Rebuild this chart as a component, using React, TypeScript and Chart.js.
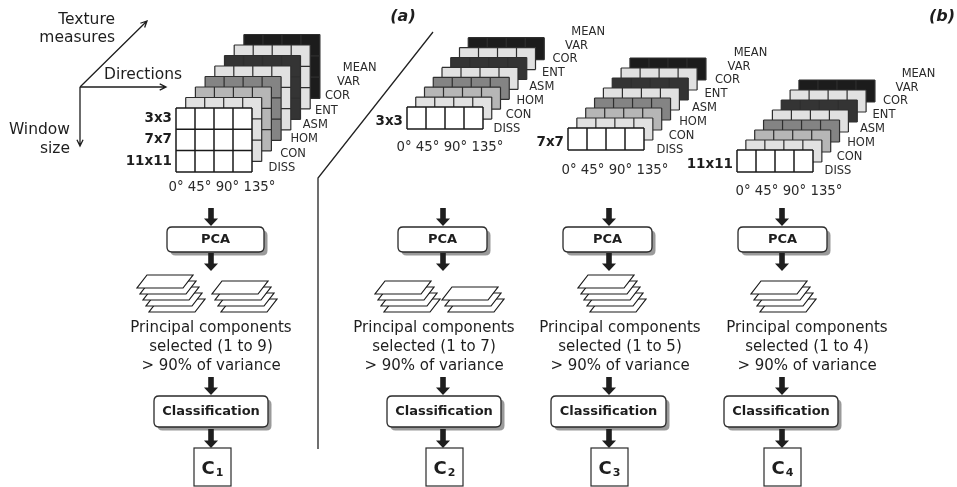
import React, { useEffect, useRef } from 'react';
import { Chart, registerables } from 'chart.js';

Chart.register(...registerables);

// ---------- data ----------
const measures = ['DISS', 'CON', 'HOM', 'ASM', 'ENT', 'COR', 'VAR', 'MEAN'];
const directions = ['0°', '45°', '90°', '135°'];
const windowSizes = ['3x3', '7x7', '11x11'];
const selectedRanges = ['1 to 9', '1 to 7', '1 to 5', '1 to 4'];
const componentStacks = [[5, 4], [4, 3], [5], [4]];
const classifierIndex = ['1', '2', '3', '4'];
const panelLabels = ['a', 'b'];
const axisTexture = ['Texture', 'measures'];
const axisDirections = ['Directions'];
const axisWindow = ['Window', 'size'];
const stepNames = ['PCA', 'Classification'];
const textLines = ['Principal components', 'selected (#)', '> 90% of variance'];
const dividerPath = [
  { x: 433, y: 32 },
  { x: 318, y: 178 },
  { x: 318, y: 449 },
];

// ---------- layout & style ----------
const W = 957;
const H = 487;
const FONT = "'DejaVu Sans', Verdana, sans-serif";
const INK = '#1e1e1e';
const layerShades = ['#ffffff', '#e1e1e1', '#b6b6b6', '#848484', '#e1e1e1', '#343434', '#e1e1e1', '#1c1c1c'];

const stackLayouts = [
  { x: 176, y: 108, rows: [0, 1, 2], cw: 19, ch: 21.3, dx: 9.7, dy: -10.5, labelX: 282, labelY: 168, stepX: 11.1, stepY: -14.3, dirX: 222, dirY: 188, rowDy: 0 },
  { x: 407, y: 107, rows: [0], cw: 19, ch: 22, dx: 8.75, dy: -9.9, labelX: 507, labelY: 129, stepX: 11.6, stepY: -13.9, dirX: 450, dirY: 148, rowDy: 3 },
  { x: 568, y: 128, rows: [1], cw: 19, ch: 22, dx: 8.85, dy: -10, labelX: 670, labelY: 150, stepX: 11.5, stepY: -13.9, dirX: 615, dirY: 171, rowDy: 3 },
  { x: 737, y: 150, rows: [2], cw: 19, ch: 22, dx: 8.85, dy: -10, labelX: 838, labelY: 171, stepX: 11.5, stepY: -13.9, dirX: 789, dirY: 192, rowDy: 3 },
];

const flowColumns = [
  { arrowX: 211, pca: [167, 264], cls: [154, 268], cbox: [194, 231], textX: 211, sheetX: [149, 221] },
  { arrowX: 443, pca: [398, 487], cls: [387, 501], cbox: [426, 463], textX: 434, sheetX: [384, 448] },
  { arrowX: 609, pca: [563, 652], cls: [551, 666], cbox: [591, 628], textX: 620, sheetX: [590] },
  { arrowX: 782, pca: [738, 827], cls: [724, 838], cbox: [764, 801], textX: 807, sheetX: [760] },
];

const flowY = {
  arrow1: [208, 226],
  pca: [227, 252],
  arrow2: [253, 271],
  sheetBottom: 312,
  text: [328, 347, 366],
  arrow3: [377, 395],
  cls: [396, 427],
  arrow4: [429, 448],
  cbox: [448, 486],
};

const diagramPlugin = {
  id: 'diagram',
  afterDatasetsDraw(chart: any) {
    const ctx: CanvasRenderingContext2D = chart.ctx;
    const sx = chart.scales.x;
    const sy = chart.scales.y;
    const X = (v: number) => sx.getPixelForValue(v);
    const Y = (v: number) => sy.getPixelForValue(v);

    const text = (s: string, x: number, y: number, font: string, align: CanvasTextAlign = 'center', color = INK) => {
      ctx.save();
      ctx.font = font;
      ctx.fillStyle = color;
      ctx.textAlign = align;
      ctx.textBaseline = 'middle';
      ctx.fillText(s, X(x), Y(y));
      ctx.restore();
    };

    const openArrow = (x0: number, y0: number, x1: number, y1: number) => {
      const ax = X(x0), ay = Y(y0), bx = X(x1), by = Y(y1);
      const ang = Math.atan2(by - ay, bx - ax);
      const L = 7;
      ctx.save();
      ctx.strokeStyle = INK;
      ctx.lineWidth = 1.3;
      ctx.beginPath();
      ctx.moveTo(ax, ay);
      ctx.lineTo(bx, by);
      ctx.moveTo(bx - L * Math.cos(ang - 0.45), by - L * Math.sin(ang - 0.45));
      ctx.lineTo(bx, by);
      ctx.lineTo(bx - L * Math.cos(ang + 0.45), by - L * Math.sin(ang + 0.45));
      ctx.stroke();
      ctx.restore();
    };

    const blockArrow = (x: number, y0: number, y1: number) => {
      const cx = X(x), t = Y(y0), b = Y(y1);
      ctx.save();
      ctx.fillStyle = INK;
      ctx.fillRect(cx - 2.8, t, 5.6, b - t - 7);
      ctx.beginPath();
      ctx.moveTo(cx - 7, b - 7.5);
      ctx.lineTo(cx + 7, b - 7.5);
      ctx.lineTo(cx, b);
      ctx.closePath();
      ctx.fill();
      ctx.restore();
    };

    const roundRect = (x0: number, y0: number, x1: number, y1: number, r: number) => {
      ctx.beginPath();
      ctx.moveTo(x0 + r, y0);
      ctx.lineTo(x1 - r, y0);
      ctx.quadraticCurveTo(x1, y0, x1, y0 + r);
      ctx.lineTo(x1, y1 - r);
      ctx.quadraticCurveTo(x1, y1, x1 - r, y1);
      ctx.lineTo(x0 + r, y1);
      ctx.quadraticCurveTo(x0, y1, x0, y1 - r);
      ctx.lineTo(x0, y0 + r);
      ctx.quadraticCurveTo(x0, y0, x0 + r, y0);
      ctx.closePath();
    };

    const box = (xs: number[], ys: number[], label: string) => {
      const x0 = X(xs[0]), x1 = X(xs[1]), y0 = Y(ys[0]), y1 = Y(ys[1]);
      ctx.save();
      ctx.fillStyle = '#9a9a9a';
      roundRect(x0 + 3.5, y0 + 3.5, x1 + 3.5, y1 + 3.5, 5);
      ctx.fill();
      ctx.fillStyle = '#ffffff';
      ctx.strokeStyle = '#2a2a2a';
      ctx.lineWidth = 1.3;
      roundRect(x0, y0, x1, y1, 5);
      ctx.fill();
      ctx.stroke();
      ctx.restore();
      text(label, (xs[0] + xs[1]) / 2, (ys[0] + ys[1]) / 2 + 0.5, `bold 13px ${FONT}`);
    };

    // ---- axes (panel a) ----
    openArrow(80, 87, 147, 21);
    openArrow(80, 87, 166, 87);
    openArrow(80, 87, 80, 146);
    const axFont = `15.5px ${FONT}`;
    text(axisTexture[0], 115, 20, axFont, 'right');
    text(axisTexture[1], 115, 38, axFont, 'right');
    text(axisDirections[0], 104, 75, axFont, 'left');
    text(axisWindow[0], 70, 130, axFont, 'right');
    text(axisWindow[1], 70, 149, axFont, 'right');

    // ---- panel labels ----
    text(`(${panelLabels[0]})`, 403, 17, `italic bold 16px ${FONT}`);
    text(`(${panelLabels[1]})`, 942, 17, `italic bold 16px ${FONT}`);

    // ---- texture cubes ----
    stackLayouts.forEach((s) => {
      const nRows = s.rows.length;
      const nCols = directions.length;
      for (let li = measures.length - 1; li >= 0; li--) {
        const ox = X(s.x + li * s.dx);
        const oy = Y(s.y + li * s.dy);
        const w = nCols * s.cw;
        const h = nRows * s.ch;
        ctx.save();
        ctx.fillStyle = layerShades[li];
        ctx.fillRect(ox, oy, w, h);
        ctx.strokeStyle = li === 0 ? '#1a1a1a' : '#2e2e2e';
        ctx.lineWidth = li === 0 ? 1.5 : 1.2;
        ctx.beginPath();
        for (let c = 0; c <= nCols; c++) {
          ctx.moveTo(ox + c * s.cw, oy);
          ctx.lineTo(ox + c * s.cw, oy + h);
        }
        for (let r = 0; r <= nRows; r++) {
          ctx.moveTo(ox, oy + r * s.ch);
          ctx.lineTo(ox + w, oy + r * s.ch);
        }
        ctx.stroke();
        ctx.restore();
      }
      // measure labels
      measures.forEach((m, i) => {
        text(m, s.labelX + i * s.stepX, s.labelY + i * s.stepY, `11.5px ${FONT}`, 'center', '#2a2a2a');
      });
      // row labels
      s.rows.forEach((ri, k) => {
        text(windowSizes[ri], s.x - 4, s.y + (k + 0.5) * s.ch + s.rowDy, `bold 13.5px ${FONT}`, 'right');
      });
      // direction labels
      text(directions.join(' '), s.dirX, s.dirY, `13.3px ${FONT}`, 'center', '#2a2a2a');
    });

    // ---- flow columns ----
    flowColumns.forEach((col, ci) => {
      blockArrow(col.arrowX, flowY.arrow1[0], flowY.arrow1[1]);
      box(col.pca, flowY.pca, stepNames[0]);
      blockArrow(col.arrowX, flowY.arrow2[0], flowY.arrow2[1]);

      // sheets (principal components)
      componentStacks[ci].forEach((n, si) => {
        const bx = col.sheetX[si];
        for (let k = n - 1; k >= 0; k--) {
          const depth = n - 1 - k;
          const blx = bx - depth * 3;
          const bly = flowY.sheetBottom - depth * 6;
          ctx.save();
          ctx.beginPath();
          ctx.moveTo(X(blx), Y(bly));
          ctx.lineTo(X(blx + 46), Y(bly));
          ctx.lineTo(X(blx + 56), Y(bly - 13));
          ctx.lineTo(X(blx + 10), Y(bly - 13));
          ctx.closePath();
          ctx.fillStyle = '#ffffff';
          ctx.fill();
          ctx.strokeStyle = '#1a1a1a';
          ctx.lineWidth = 1.2;
          ctx.stroke();
          ctx.restore();
        }
      });

      textLines.forEach((t, li) => {
        text(t.replace('#', selectedRanges[ci]), col.textX, flowY.text[li], `15px ${FONT}`);
      });

      blockArrow(col.arrowX, flowY.arrow3[0], flowY.arrow3[1]);
      box(col.cls, flowY.cls, stepNames[1]);
      blockArrow(col.arrowX, flowY.arrow4[0], flowY.arrow4[1]);

      // classification result box
      const x0 = X(col.cbox[0]), x1 = X(col.cbox[1]), y0 = Y(flowY.cbox[0]), y1 = Y(flowY.cbox[1]);
      ctx.save();
      ctx.fillStyle = '#ffffff';
      ctx.fillRect(x0, y0, x1 - x0, y1 - y0);
      ctx.strokeStyle = '#2a2a2a';
      ctx.lineWidth = 1.2;
      ctx.strokeRect(x0, y0, x1 - x0, y1 - y0);
      ctx.font = `bold 18px ${FONT}`;
      const wC = ctx.measureText('C').width;
      ctx.font = `bold 11px ${FONT}`;
      const wS = ctx.measureText(classifierIndex[ci]).width;
      const cx = (x0 + x1) / 2;
      const cy = Y(flowY.cbox[0] + 21);
      const start = cx - (wC + wS + 1) / 2;
      ctx.fillStyle = INK;
      ctx.textBaseline = 'middle';
      ctx.textAlign = 'left';
      ctx.font = `bold 18px ${FONT}`;
      ctx.fillText('C', start, cy);
      ctx.font = `bold 11px ${FONT}`;
      ctx.fillText(classifierIndex[ci], start + wC + 1, cy + 4);
      ctx.restore();
    });
  },
};

export default function App() {
  const ref = useRef<HTMLCanvasElement | null>(null);

  useEffect(() => {
    document.body.style.margin = '0';
    document.body.style.background = '#ffffff';
    const canvas = ref.current;
    if (!canvas) return;
    const chart = new Chart(canvas, {
      type: 'scatter',
      data: {
        datasets: [
          {
            data: dividerPath,
            showLine: true,
            borderColor: '#222222',
            borderWidth: 1.3,
            pointRadius: 0,
            fill: false,
            tension: 0,
          },
        ],
      },
      options: {
        responsive: false,
        maintainAspectRatio: false,
        animation: false,
        events: [],
        layout: { padding: 0 },
        plugins: { legend: { display: false }, tooltip: { enabled: false } },
        scales: {
          x: { type: 'linear', min: 0, max: W, display: false },
          y: { type: 'linear', min: 0, max: H, reverse: true, display: false },
        },
      },
      plugins: [diagramPlugin],
    });
    return () => chart.destroy();
  }, []);

  return (
    <div style={{ width: W, height: H, background: '#fff' }}>
      <canvas ref={ref} width={W} height={H} style={{ display: 'block', width: W, height: H }} />
    </div>
  );
}
